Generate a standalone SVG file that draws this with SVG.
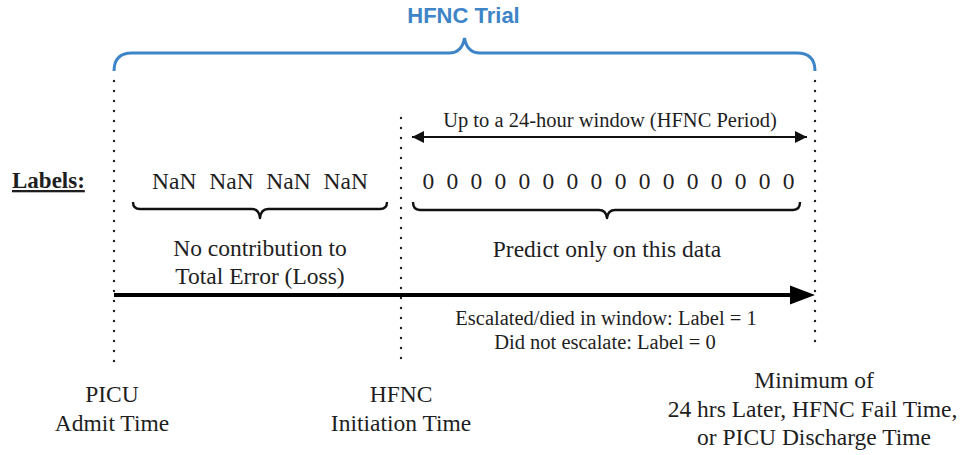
<svg xmlns="http://www.w3.org/2000/svg" width="966" height="455" viewBox="0 0 966 455">
  <defs>
    <style>
      .t { font-family: "Liberation Serif", "Times New Roman", serif; fill: #1e1e1e; }
      .m { font-size: 23.5px; text-anchor: middle; }
      .s { font-size: 20.5px; text-anchor: middle; }
      .dot { stroke: #222; stroke-width: 2.4; stroke-linecap: round; stroke-dasharray: 0 10; fill: none; }
      .brace { stroke: #111; stroke-width: 2.4; fill: none; stroke-linejoin: round; }
    </style>
    <marker id="headS" viewBox="0 0 10 10" refX="10" refY="5" markerWidth="7.5" markerHeight="6" markerUnits="strokeWidth" orient="auto-start-reverse">
      <path d="M0,0 L10,5 L0,10 z" fill="#111"/>
    </marker>
  </defs>
  <rect width="966" height="455" fill="#ffffff"/>

  <g id="hfnc-trial">
    <path d="M114,71 Q114,53 132,53 L449,53 Q462,53 464.5,38 Q467,53 480,53 L797,53 Q815,53 815,71" fill="none" stroke="#3d85c6" stroke-width="3"/>
    <text x="463.5" y="23" text-anchor="middle" font-family="'Liberation Sans', Arial, sans-serif" font-weight="bold" font-size="22" fill="#3d85c6">HFNC Trial</text>
  </g>

  <g id="guides">
    <line class="dot" x1="114" y1="81" x2="114" y2="371"/>
    <line class="dot" x1="401" y1="118" x2="401" y2="368"/>
    <line class="dot" x1="815" y1="81" x2="815" y2="351"/>
  </g>

  <g id="labels-heading">
    <text class="t" x="12" y="188" font-size="23" font-weight="bold" text-decoration="underline">Labels:</text>
  </g>

  <g id="nan-segment">
    <text class="t m" x="260" y="189" xml:space="preserve" word-spacing="6.9">NaN NaN NaN NaN</text>
    <path class="brace" d="M133,202 Q133,209 140,209 L252,209 Q259,209 260,218 Q261,209 268,209 L380,209 Q387,209 387,202"/>
    <text class="t m" x="260" y="256">No contribution to</text>
    <text class="t m" x="260" y="284">Total Error (Loss)</text>
  </g>

  <g id="hfnc-segment">
    <text class="t s" x="610" y="127">Up to a 24-hour window (HFNC Period)</text>
    <text class="t m" x="608.5" y="189" xml:space="preserve" word-spacing="6.4">0 0 0 0 0 0 0 0 0 0 0 0 0 0 0 0</text>
    <path class="brace" d="M413,202 Q413,210 420,210 L599,210 Q606,210 607,218 Q608,210 615,210 L793,210 Q800,210 800,202"/>
    <text class="t m" x="607" y="257">Predict only on this data</text>
  </g>

  <g id="outcome">
    <text class="t s" x="606" y="325">Escalated/died in window: Label = 1</text>
    <text class="t s" x="605" y="349">Did not escalate: Label = 0</text>
  </g>

  <g id="admit">
    <text class="t m" x="112" y="402">PICU</text>
    <text class="t m" x="112" y="431">Admit Time</text>
  </g>
  <g id="initiation">
    <text class="t m" x="401" y="402">HFNC</text>
    <text class="t m" x="401" y="431">Initiation Time</text>
  </g>
  <g id="end-time">
    <text class="t m" x="814" y="388">Minimum of</text>
    <text class="t m" x="812.5" y="417">24 hrs Later, HFNC Fail Time,</text>
    <text class="t m" x="814" y="445">or PICU Discharge Time</text>
  </g>

  <g id="connectors">
    <line x1="412" y1="137" x2="807" y2="137" stroke="#111" stroke-width="2" marker-start="url(#headS)" marker-end="url(#headS)"/>
    <line x1="114" y1="295" x2="792" y2="295" stroke="#000" stroke-width="4"/>
    <path d="M790,285.5 L815,295 L790,304.5 z" fill="#000"/>
  </g>
</svg>
